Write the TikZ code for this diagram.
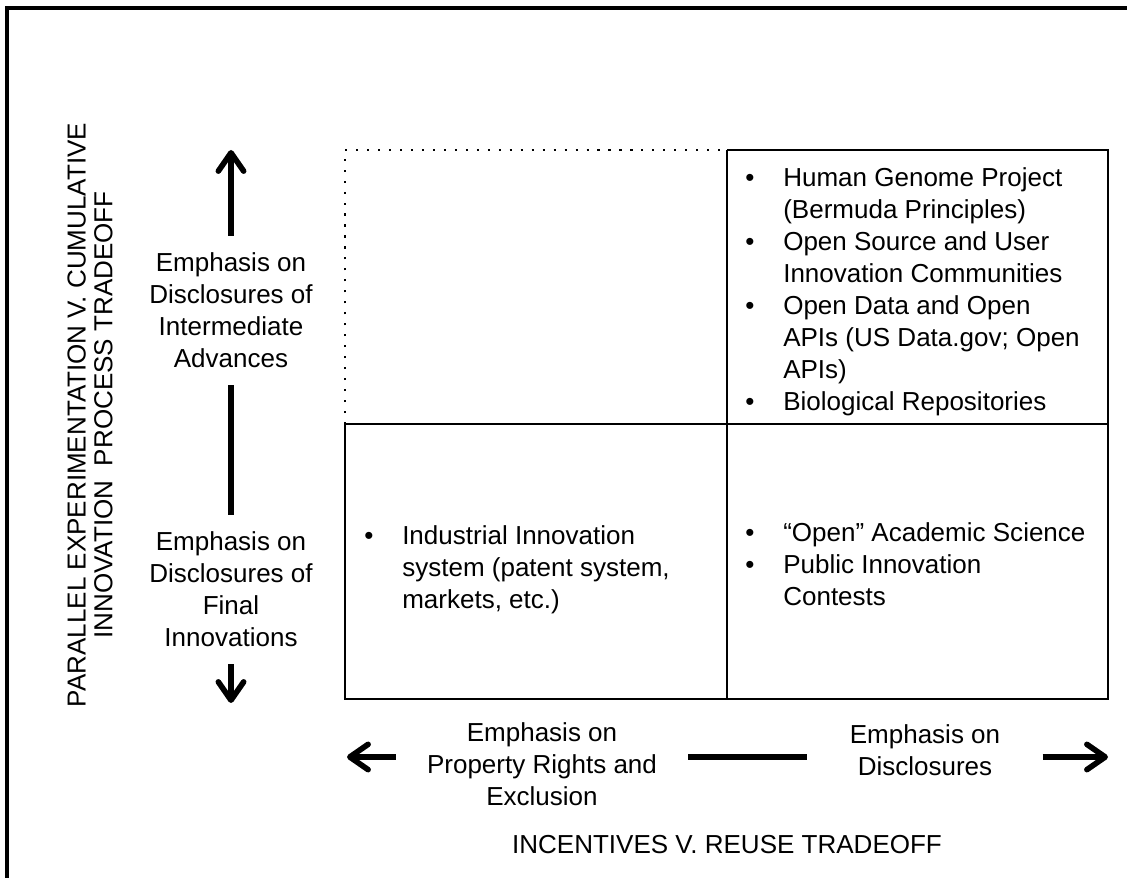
\documentclass[tikz,border=0pt]{standalone}
\usepackage{fontspec}
\setmainfont{Liberation Sans}
\usetikzlibrary{arrows.meta}

\newcommand{\itm}[1]{\makebox[0.95cm][l]{\textbullet}#1}
\newcommand{\cnt}[1]{\hspace*{0.95cm}#1}

\begin{document}
\begin{tikzpicture}[x=0.025cm, y=-0.025cm,
    every node/.style={inner sep=0pt, font=\fontsize{18.5}{22.8}\selectfont},
    cellline/.style={line width=2pt},
    dotline/.style={line width=1.5pt, dash pattern=on 1.5pt off 6.3pt},
    axisbar/.style={line width=4pt},
    axisarrow/.style={axisbar, -{Straight Barb[length=13pt, width=18pt, round]}},
    axistext/.style={align=center},
    bullets/.style={align=left, anchor=north west}]

    \useasboundingbox (0,0) rectangle (1127,878);
    \draw[line width=2.2pt] (1127,8) -- (7,8) -- (7,878);

    \coordinate (A) at (345,150);
    \coordinate (B) at (727,150);
    \coordinate (C) at (1108,150);
    \coordinate (D) at (345,424);
    \coordinate (E) at (727,424);
    \coordinate (F) at (1108,424);
    \coordinate (G) at (345,699);
    \coordinate (H) at (727,699);
    \coordinate (K) at (1108,699);

    %Quadrants
    \draw[cellline] (B) -- (C) -- (K) -- (G) -- (D) -- (F);
    \draw[cellline] (B) -- (H);
    \draw[dotline] (D) -- (A) -- (B);

    \node[bullets] (opencell) at (745,167) {\itm{Human Genome Project}\\
        \cnt{(Bermuda Principles)}\\ \itm{Open Source and User}\\
        \cnt{Innovation Communities}\\ \itm{Open Data and Open}\\
        \cnt{APIs (US Data.gov; Open}\\ \cnt{APIs)}\\ \itm{Biological Repositories}};
    \node[bullets] (industry) at (364,525) {\itm{Industrial Innovation}\\
        \cnt{system (patent system,}\\ \cnt{markets, etc.)}};
    \node[bullets] (science) at (745,522) {\itm{“Open” Academic Science}\\
        \itm{Public Innovation}\\ \cnt{Contests}};

    %Vertical axis
    \node[axistext, inner ysep=12pt] (upper) at (231,310.5)
        {Emphasis on\\Disclosures of\\Intermediate\\Advances};
    \node[axistext, inner ysep=12pt] (lower) at (231,589.5)
        {Emphasis on\\Disclosures of\\Final\\Innovations};
    \coordinate (uptip) at (231,150);
    \coordinate (downtip) at (231,703);
    \draw[axisarrow] (upper) -- (uptip);
    \draw[axisbar] (upper) -- (lower);
    \draw[axisarrow] (lower) -- (downtip);

    %Horizontal axis
    \node[axistext, inner xsep=22pt] (prop) at (542,764.5)
        {Emphasis on\\Property Rights and\\Exclusion};
    \node[axistext, inner xsep=30pt] (discl) at (925,750.5)
        {Emphasis on\\Disclosures};
    \coordinate (lefttip) at (347,757);
    \coordinate (righttip) at (1108,757);
    \draw[axisarrow] (lefttip -| prop.west) -- (lefttip);
    \draw[axisbar] (lefttip -| prop.east) -- (lefttip -| discl.west);
    \draw[axisarrow] (righttip -| discl.east) -- (righttip);

    \node (reuse) at (727,845) {INCENTIVES V. REUSE TRADEOFF};
    \node[axistext, rotate=90, font=\fontsize{18.5}{19}\selectfont] (tradeoff) at (90,415)
        {PARALLEL EXPERIMENTATION V. CUMULATIVE\\INNOVATION\ \ PROCESS TRADEOFF};
\end{tikzpicture}
\end{document}
